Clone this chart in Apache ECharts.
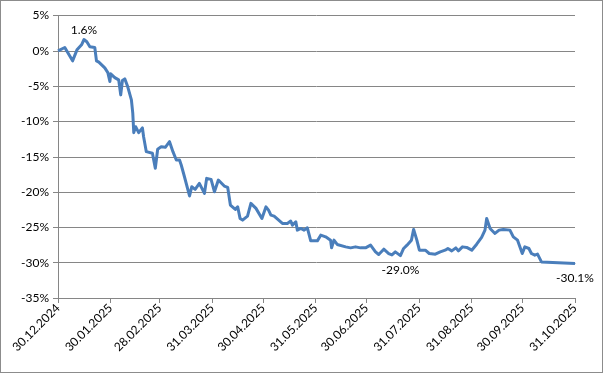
<!DOCTYPE html>
<html><head><meta charset="utf-8">
<script src="https://cdn.jsdelivr.net/npm/echarts@6/dist/echarts.min.js"></script>
<style>html,body{margin:0;padding:0;background:#fff}
#c{width:603px;height:373px;box-sizing:border-box;border:1px solid #8c8c8c}</style>
</head><body><div id="c"></div>
<script>
// days since 30.12.2024
const days = [0,4,8.6,11.2,13.9,15.3,17,18.8,21.7,22.7,24.1,27.6,29.4,30.6,31.1,33.5,35.8,37,38,39.4,41.1,43.3,44.1,44.7,45.8,47.6,49.8,50.5,52.1,55.7,57.4,58.8,60.9,63.3,65.8,67.8,69.8,71.7,72.7,74.6,77.6,78.9,80.9,83.4,86.4,87.7,90.3,92.3,94.6,98.1,100.1,101.7,104.6,106,107.4,108.9,111.8,113.8,116.8,120.3,122.7,124.2,125.6,127.5,132.4,135.3,137.3,138.3,140.3,141.2,143.2,145.2,147.1,149.1,153,155,157.9,160.8,161.4,162.8,164.7,169.7,172.6,175.5,178.5,181.4,184.4,187.3,189.2,192.2,195.1,197,199,202,203.9,205.9,208.5,209.8,211.7,213.2,216.7,219,222.6,225.5,228.4,230,232.3,234.7,236.2,238.6,241.1,244.1,247,249.9,251.9,252.9,253.9,254.9,257.8,260.2,262.7,266.6,268.6,271.1,273.9,275.4,277.8,279.3,281.3,282.9,285.2,286.2,305];
const values = [0,0.47,-1.42,0.14,0.85,1.6,1.28,0.57,0.47,-1.42,-1.6,-2.41,-3.08,-4.35,-3.26,-3.79,-4.11,-6.24,-4.21,-3.97,-5.06,-6.95,-8.79,-11.59,-10.74,-11.59,-10.92,-12.16,-14.28,-14.51,-16.64,-13.94,-13.57,-13.66,-12.87,-14.28,-15.46,-15.46,-16.17,-17.83,-20.55,-19.25,-19.62,-18.77,-20.18,-18.06,-18.2,-19.96,-18.3,-19.15,-19.33,-21.84,-22.45,-22.09,-23.73,-23.97,-23.4,-21.6,-22.31,-23.73,-22.09,-22.55,-23.26,-23.4,-24.44,-24.44,-24.11,-24.68,-24.21,-25.39,-25.15,-25.39,-25.06,-26.91,-26.91,-26.1,-26.34,-26.81,-27.9,-26.81,-27.42,-27.76,-27.9,-27.76,-27.9,-27.9,-27.52,-28.47,-28.84,-28.09,-28.7,-28.9,-28.47,-29.0,-27.99,-27.52,-26.81,-25.29,-26.81,-28.23,-28.23,-28.7,-28.79,-28.47,-28.23,-27.99,-28.33,-27.9,-28.33,-27.76,-27.84,-28.23,-27.38,-26.43,-25.39,-23.73,-23.5,-25.15,-25.86,-25.39,-25.29,-25.39,-26.34,-26.81,-28.7,-27.76,-27.99,-28.7,-28.94,-28.79,-29.89,-30.1,-30.1];
const tickDays = [0,31,60,91,121,152,182,213,244,274,305];
const tickLabels = ['30.12.2024','30.01.2025','28.02.2025','31.03.2025','30.04.2025','31.05.2025','30.06.2025','31.07.2025','31.08.2025','30.09.2025','31.10.2025'];
const labelledDays = [15.3, 202, 305];
const labelPositions = ['top','bottom','bottom'];

const font = 'Lato, "Liberation Sans", sans-serif';
const lineData = days.map((d,i)=>[d, values[i]]);
const labelData = labelledDays.map((d,k)=>{
  const i = days.indexOf(d);
  return {value:[d, values[i]], label:{position:labelPositions[k], distance: k===0 ? 3 : 8}};
});
const chart = echarts.init(document.getElementById('c'), null, {renderer:'canvas'});
chart.setOption({
  animation:false,
  grid:{left:57,right:27,top:14.5,bottom:74,containLabel:false},
  xAxis:{type:'value',min:0,max:305,
    axisLine:{onZero:false,lineStyle:{color:'#868686',width:1}},
    axisTick:{customValues:tickDays,length:5,lineStyle:{color:'#868686'}},
    axisLabel:{customValues:tickDays,rotate:45,margin:8,color:'#000',fontFamily:font,fontSize:12,
      formatter:v=>{const i=tickDays.indexOf(Math.round(v));return i>=0?tickLabels[i]:'';}},
    splitLine:{show:false}},
  yAxis:{type:'value',min:-35,max:5,interval:5,
    axisLine:{show:true,onZero:false,lineStyle:{color:'#868686',width:1}},
    axisTick:{show:true,length:5,lineStyle:{color:'#868686'}},
    axisLabel:{formatter:'{value}%',color:'#000',fontFamily:font,fontSize:12,margin:9},
    splitLine:{lineStyle:{color:'#868686',width:1}}},
  series:[
    {type:'line',data:lineData,showSymbol:false,symbol:'none',z:2,
      lineStyle:{color:'#4a7ebb',width:3,join:'round'}},
    {type:'scatter',data:labelData,symbolSize:1,z:3,itemStyle:{color:'#4a7ebb',opacity:1},
      label:{show:true,color:'#000',opacity:1,textBorderWidth:0,fontFamily:font,fontSize:12,
        formatter:p=>p.value[1].toFixed(1)+'%'}}
  ]
});
</script></body></html>
